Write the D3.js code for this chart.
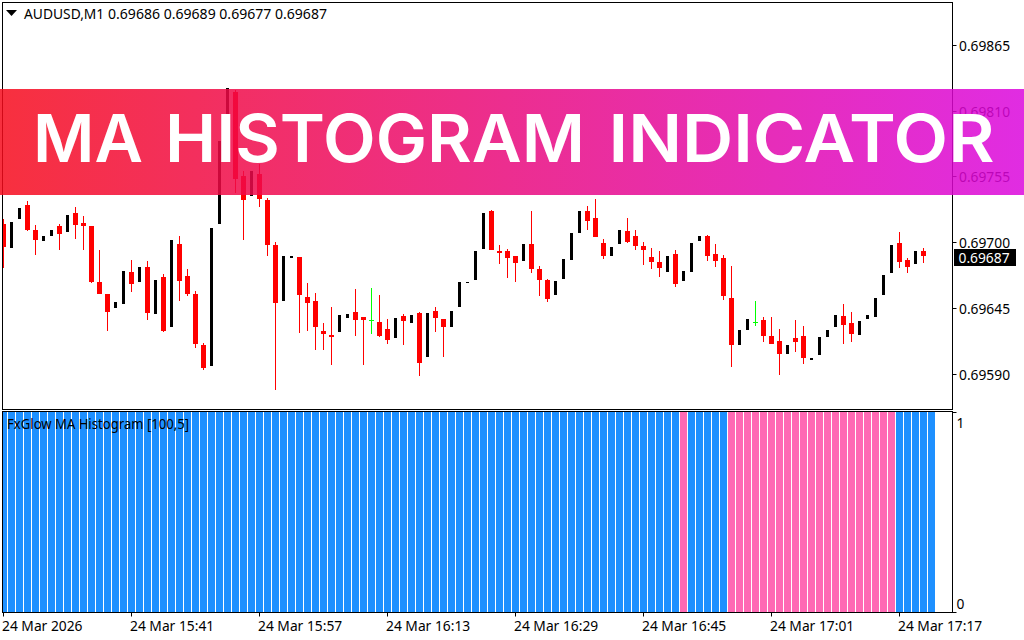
<!DOCTYPE html>
<html><head><meta charset="utf-8">
<style>
html,body{margin:0;padding:0;background:#fff;overflow:hidden}
svg{display:block}
text{font-family:"Noto Sans",sans-serif;font-size:13.8px;fill:#000}
</style>
<script src="https://cdnjs.cloudflare.com/ajax/libs/d3/7.8.5/d3.min.js"></script>
</head><body><svg id="c" width="1024" height="640"></svg>
<script>
// prices are given in points above 0.69000 (1 point = 0.00001)
const opens=[715.6,695.5,719.8,731.5,710.6,701.3,705.5,713.9,708.9,724.8,716.4,713.9,667.0,657.0,645.3,648.6,675.4,667.0,679.6,640.2,671.2,629.3,698.8,672.0,657.0,614.3,596.7,715.6,777.5,826.1,755.8,739.0,757.4,735.7,698.0,651.1,687.1,688.0,654.5,651.1,626.0,622.7,625.2,636.9,641.9,637.7,635.2,633.5,627.7,620.1,638.6,632.7,641.1,604.2,642.7,636.0,629.3,646.1,666.2,668.7,694.6,726.5,693.0,693.0,688.8,684.6,698.8,677.9,668.7,656.1,669.5,685.4,708.0,726.5,720.6,699.7,688.8,698.8,709.7,705.5,697.2,688.0,683.8,675.4,690.5,667.9,675.4,701.3,705.5,690.5,687.1,653.6,614.3,626.8,633.5,635.2,621.8,617.6,606.7,620.1,621.8,601.7,605.9,621.0,629.3,638.6,632.7,622.7,636.0,637.7,656.1,674.6,699.7,685.4,682.1,693.0];
const highs=[719.5,717.2,729.0,734.8,714.7,705.5,710.6,715.6,723.1,729.8,722.3,713.9,693.8,657.0,650.3,676.2,685.4,679.6,684.6,668.7,673.7,702.2,705.5,677.9,659.5,616.0,712.2,785.1,829.4,827.8,760.0,760.0,765.8,737.3,700.5,688.8,688.8,688.0,666.2,657.8,632.7,646.1,639.4,640.2,661.2,637.7,662.0,656.1,636.0,636.9,640.2,639.4,641.9,641.1,646.1,636.0,642.7,667.0,667.0,693.0,724.8,727.3,698.0,694.6,688.8,698.8,726.5,680.4,669.5,667.9,686.3,708.0,726.5,730.6,736.5,703.0,696.3,710.6,720.6,710.6,700.5,695.5,693.0,688.8,693.8,676.2,699.7,705.5,706.4,698.8,689.6,680.4,626.8,636.0,651.1,637.7,637.7,627.7,614.3,635.2,630.2,603.4,621.0,626.8,639.4,648.6,641.9,634.4,639.4,653.6,672.9,698.0,708.9,687.1,693.0,695.5];
const lows=[678.7,695.5,719.8,709.7,689.6,701.3,705.5,693.8,708.9,703.0,693.8,666.2,657.0,626.0,645.3,648.6,658.6,667.0,635.2,640.2,625.2,629.3,651.1,655.3,611.8,593.4,596.7,715.6,777.5,741.5,702.2,739.0,729.8,688.8,576.6,651.1,687.1,624.3,626.0,610.1,610.1,597.5,625.2,636.9,621.8,597.5,623.5,621.0,615.1,620.1,614.3,632.7,588.3,604.2,625.2,604.2,629.3,646.1,666.2,668.7,694.6,693.8,682.1,670.4,667.0,684.6,674.6,655.3,650.3,656.1,669.5,685.4,708.0,710.6,704.7,686.3,688.8,698.8,699.7,693.8,681.3,677.9,671.2,675.4,662.8,667.9,675.4,701.3,684.6,679.6,652.0,595.9,614.3,626.8,630.2,616.8,615.1,589.2,606.7,608.4,598.4,601.7,605.9,621.0,629.3,615.1,616.8,622.7,636.0,637.7,656.1,674.6,678.7,674.6,682.1,682.9];
const closes=[696.3,717.2,729.0,710.6,702.2,705.5,710.6,707.2,723.1,714.7,713.9,667.0,657.0,641.9,650.3,676.2,665.3,679.6,641.1,668.7,626.0,702.2,667.9,657.0,615.1,595.0,712.2,785.1,829.4,753.3,735.7,760.0,736.5,698.0,649.4,688.8,688.8,656.1,649.4,629.3,623.5,621.0,639.4,640.2,635.2,635.2,635.2,621.8,618.5,636.9,634.4,639.4,599.2,641.1,636.9,629.3,642.7,667.0,667.0,693.0,724.8,693.8,691.3,687.1,682.9,698.8,677.9,668.7,652.8,667.9,686.3,708.0,726.5,718.1,704.7,688.8,696.3,710.6,700.5,697.2,693.8,683.8,678.7,688.8,665.3,676.2,699.7,705.5,688.8,684.6,655.3,614.3,626.8,636.0,633.5,621.8,615.1,606.7,614.3,616.8,603.4,603.4,621.0,626.8,639.4,631.0,623.5,634.4,639.4,653.6,672.9,698.0,683.8,679.6,693.0,688.8];
const priceTicks=[0.69590,0.69645,0.69700,0.69755,0.69810,0.69865];
const lastPrice=0.69687;
const timeTickBars=[0,16,32,48,64,80,96,112];
const timeLabels=["24 Mar 2026","24 Mar 15:41","24 Mar 15:57","24 Mar 16:13","24 Mar 16:29","24 Mar 16:45","24 Mar 17:01","24 Mar 17:17"];
const histValues=[1,1,1,1,1,1,1,1,1,1,1,1,1,1,1,1,1,1,1,1,1,1,1,1,1,1,1,1,1,1,1,1,1,1,1,1,1,1,1,1,1,1,1,1,1,1,1,1,1,1,1,1,1,1,1,1,1,1,1,1,1,1,1,1,1,1,1,1,1,1,1,1,1,1,1,1,1,1,1,1,1,1,1,1,1,1,1,1,1,1,1,1,1,1,1,1,1,1,1,1,1,1,1,1,1,1,1,1,1,1,1,1,1,1,1,1,1];
const histPink=[85,91,92,93,94,95,96,97,98,99,100,101,102,103,104,105,106,107,108,109,110,111];
const histTicks=[0,1];
const symbolLabel="AUDUSD,M1", ohlcLabel="0.69686 0.69689 0.69677 0.69687";
const histLabel="FxGlow MA Histogram [100,5]";
const bannerWords=["MA","HISTOGRAM","INDICATOR"];

const svg=d3.select("#c");
const x=d3.scaleLinear().domain([0,115]).range([3.5,923.5]);
const y=d3.scaleLinear().domain([0.69590,0.69865]).range([374,45.5]);
const yH=d3.scaleLinear().domain([0,1]).range([612,412]);
const py=v=>Math.round(y(0.69+v/1e5));
const defs=svg.append("defs");
defs.append("clipPath").attr("id","main").append("rect").attr("x",3).attr("y",3).attr("width",949).attr("height",406);
defs.append("clipPath").attr("id","sub").append("rect").attr("x",3).attr("y",412).attr("width",949).attr("height",200);
const g=defs.append("linearGradient").attr("id","bg").attr("x1",0).attr("x2",1).attr("y1",0).attr("y2",0);
g.append("stop").attr("offset",0).attr("stop-color","rgb(246,11,28)");
g.append("stop").attr("offset",1).attr("stop-color","rgb(219,7,221)");

// histogram
svg.append("g").attr("clip-path","url(#sub)").selectAll("rect").data(histValues).join("rect")
 .attr("x",(d,i)=>x(i)-3.5).attr("width",7).attr("y",d=>yH(d)).attr("height",d=>yH(0)-yH(d))
 .attr("fill",(d,i)=>histPink.includes(i)?"#FF69B4":"#1E90FF");

// candles
const cg=svg.append("g").attr("clip-path","url(#main)");
const idx=d3.range(opens.length);
const col=i=>closes[i]<opens[i]?"#FF0000":closes[i]>opens[i]?"#000":"#00FF00";
cg.selectAll("rect.wick").data(idx.filter(i=>closes[i]<=opens[i])).join("rect").attr("class","wick")
 .attr("x",i=>x(i)-.5).attr("width",1).attr("y",i=>py(highs[i])).attr("height",i=>Math.max(1,py(lows[i])-py(highs[i]))).attr("fill",col);
cg.selectAll("rect.body").data(idx).join("rect").attr("class","body")
 .attr("x",i=>x(i)-(closes[i]>opens[i]?1.5:2.5)).attr("width",i=>closes[i]>opens[i]?3:5)
 .attr("y",i=>py(Math.max(opens[i],closes[i]))).attr("height",i=>Math.max(1,py(Math.min(opens[i],closes[i]))-py(Math.max(opens[i],closes[i])))).attr("fill",col);

// frames
[[2.5,2.5,950,407],[2.5,411.5,950,201]].forEach(r=>svg.append("rect").attr("x",r[0]).attr("y",r[1]).attr("width",r[2]).attr("height",r[3]).attr("fill","none").attr("stroke","#000"));

// axes
function tidy(sel,sc){sel.select(".domain").remove();sel.selectAll(".tick line").attr("stroke","#000");
 sel.selectAll(".tick").attr("transform",d=>`translate(0,${Math.floor(sc(d))+.5})`);
 sel.selectAll("text").attr("font-family",null).attr("font-size",null).style("fill","#000");sel.attr("font-family",null).attr("font-size",null);}
const ya=svg.append("g").attr("transform","translate(952.5,0)")
 .call(d3.axisRight(y).tickValues(priceTicks).tickFormat(d3.format(".5f")).tickSize(4).tickPadding(2.5).offset(0));
tidy(ya,y);
ya.selectAll("text").attr("y",1);
const ha=svg.append("g").attr("transform","translate(952.5,0)")
 .call(d3.axisRight(yH).tickValues(histTicks).tickFormat(d3.format("d")).tickSize(4).tickPadding(0).offset(0));
tidy(ha,yH);
ha.selectAll("text").attr("x",4).attr("y",d=>d?11:-8);
const xa=svg.append("g").attr("transform","translate(0,612.5)")
 .call(d3.axisBottom(x).tickValues(timeTickBars).tickFormat((d,i)=>timeLabels[i]).tickSize(4).offset(0));
xa.select(".domain").remove();xa.selectAll(".tick line").attr("stroke","#000");
xa.attr("font-family",null).attr("font-size",null);
xa.selectAll("text").attr("text-anchor","start").attr("x",-1.5).attr("y",18.5).attr("dy",0).style("fill","#000");

// current price label
const ly=y(lastPrice);
svg.append("rect").attr("x",954).attr("y",249).attr("width",62).attr("height",17).attr("fill","#000");
svg.append("text").attr("x",958.5).attr("y",ly+4.8).style("fill","#fff").text(d3.format(".5f")(lastPrice));

// legends
svg.append("path").attr("d",d3.line()([[6,10],[17,10],[11.5,16]])+"Z").attr("fill","#000");
svg.append("text").attr("x",24).attr("y",19).text(symbolLabel);
svg.append("text").attr("x",108).attr("y",19).attr("textLength",219).attr("lengthAdjust","spacingAndGlyphs").text(ohlcLabel);
svg.append("text").attr("x",7).attr("y",429).attr("textLength",182).attr("lengthAdjust","spacingAndGlyphs").text(histLabel);

// banner
svg.append("rect").attr("x",0).attr("y",89).attr("width",1024).attr("height",106).attr("fill","url(#bg)").attr("opacity",.85);
const wordBoxes=[[33,110],[165,420],[608.5,386]];
const title=svg.append("text").attr("y",162).style("font-family","Inter").style("font-weight",560).style("font-size","66px").style("fill","#fff");
bannerWords.forEach((w,i)=>{
  title.append("tspan").attr("x",wordBoxes[i][0]).attr("textLength",wordBoxes[i][1]).attr("lengthAdjust","spacingAndGlyphs").text(w);
  if(i<2) title.append("tspan").text(" ");
});
</script></body></html>
